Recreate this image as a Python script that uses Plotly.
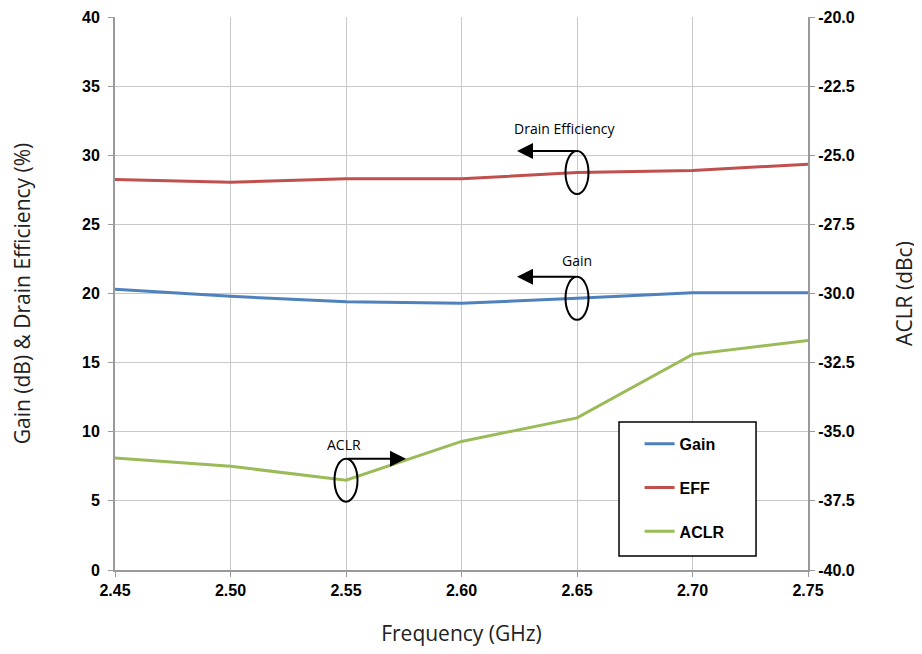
import plotly.graph_objects as go

freq = [2.45, 2.50, 2.55, 2.60, 2.65, 2.70, 2.75]
gain = [20.3, 19.8, 19.4, 19.3, 19.65, 20.05, 20.05]
eff = [28.25, 28.05, 28.3, 28.3, 28.75, 28.9, 29.35]
aclr = [-35.95, -36.25, -36.75, -35.35, -34.5, -32.2, -31.7]

x_ticks = [2.45, 2.50, 2.55, 2.60, 2.65, 2.70, 2.75]
x_ticktext = ["2.45", "2.50", "2.55", "2.60", "2.65", "2.70", "2.75"]
y_ticks = [0, 5, 10, 15, 20, 25, 30, 35, 40]
y2_ticks = [-40, -37.5, -35, -32.5, -30, -27.5, -25, -22.5, -20]
y2_ticktext = ["-40.0", "-37.5", "-35.0", "-32.5", "-30.0", "-27.5", "-25.0", "-22.5", "-20.0"]

BLUE = "#4F81BD"
RED = "#C0504D"
GREEN = "#9BBB59"
TICKFONT = dict(family="Liberation Sans, Arial", size=16, color="#000000", weight="bold")
TITLEFONT = dict(family="Open Sans", size=21, color="#222222")
AXCOL = "#9a9a9a"
GRIDCOL = "#c8c8c8"

fig = go.Figure()
fig.add_trace(go.Scatter(x=freq, y=gain, name="Gain", mode="lines",
                         line=dict(color=BLUE, width=3), legendgroup="g1"))
fig.add_trace(go.Scatter(x=freq, y=eff, name="EFF", mode="lines",
                         line=dict(color=RED, width=3), legendgroup="g2"))
fig.add_trace(go.Scatter(x=freq, y=aclr, name="ACLR", mode="lines",
                         line=dict(color=GREEN, width=3), legendgroup="g3", yaxis="y2"))

# page body has an 8px default margin, so the figure is sized/offset to compensate
fig.update_layout(
    width=914, height=646,
    paper_bgcolor="white", plot_bgcolor="white",
    margin=dict(l=107, r=114, t=9, b=84, autoexpand=False),
    xaxis=dict(range=[2.45, 2.75], tickvals=x_ticks, ticktext=x_ticktext,
               showgrid=True, gridcolor=GRIDCOL, gridwidth=1,
               showline=True, linecolor=AXCOL, linewidth=2,
               ticks="outside", ticklen=5, tickcolor=AXCOL,
               tickfont=TICKFONT, automargin=False,
               title=dict(text="Frequency (GHz)", font=TITLEFONT, standoff=28),
               zeroline=False),
    yaxis=dict(range=[0, 40], tickvals=y_ticks,
               showgrid=True, gridcolor=GRIDCOL, gridwidth=1,
               showline=True, linecolor=AXCOL, linewidth=2,
               ticks="outside", ticklen=5, tickcolor=AXCOL,
               tickfont=TICKFONT, automargin=False, ticklabelstandoff=5,
               title=dict(text="Gain (dB) & Drain Efficiency (%)", font=TITLEFONT, standoff=48),
               zeroline=False),
    yaxis2=dict(range=[-40, -20], tickvals=y2_ticks, ticktext=y2_ticktext,
                overlaying="y", side="right", showgrid=False,
                showline=True, linecolor=AXCOL, linewidth=2,
                ticks="outside", ticklen=5, tickcolor=AXCOL,
                tickfont=TICKFONT, automargin=False,
                title=dict(text="ACLR (dBc)", font=TITLEFONT, standoff=44),
                zeroline=False),
    legend=dict(x=0.757, y=0.259, xanchor="left", yanchor="top",
                borderwidth=0, bgcolor="rgba(0,0,0,0)",
                font=dict(family="Liberation Sans, Arial", size=16, color="#000000", weight="bold"),
                tracegroupgap=20, itemwidth=30),
    showlegend=True,
)

# legend frame
fig.add_shape(type="rect", xref="paper", yref="paper",
              x0=0.7273, x1=0.925, y0=0.0253, y1=0.2676,
              line=dict(color="#000000", width=1.5), fillcolor="white", layer="above")

ann_font = dict(family="Open Sans", size=14, color="#000000")

def marker_callout(xv, yv, yref, label, direction, label_dx, label_dy):
    fig.add_shape(type="circle", xref="x", yref=yref, xsizemode="pixel", ysizemode="pixel",
                  xanchor=xv, yanchor=yv, x0=-11.5, x1=11.5, y0=-21.5, y1=21.5,
                  line=dict(color="#000000", width=2))
    fig.add_annotation(x=xv, y=yv, xref="x", yref=yref, text="", showarrow=True,
                       xshift=60 * direction, yshift=21.5, ax=-60 * direction, ay=0,
                       arrowhead=2, arrowsize=1.6, arrowwidth=2, arrowcolor="#000000")
    fig.add_annotation(x=xv, y=yv, xref="x", yref=yref, text=label, showarrow=False,
                       xshift=label_dx, yshift=label_dy, font=ann_font)

marker_callout(freq[4], eff[4], "y", "Drain Efficiency", -1, -12, 44.5)
marker_callout(freq[4], gain[4], "y", "Gain", -1, 0, 37.5)
marker_callout(freq[2], aclr[2], "y2", "ACLR", 1, -2, 35.5)

fig.write_html("out.html")
